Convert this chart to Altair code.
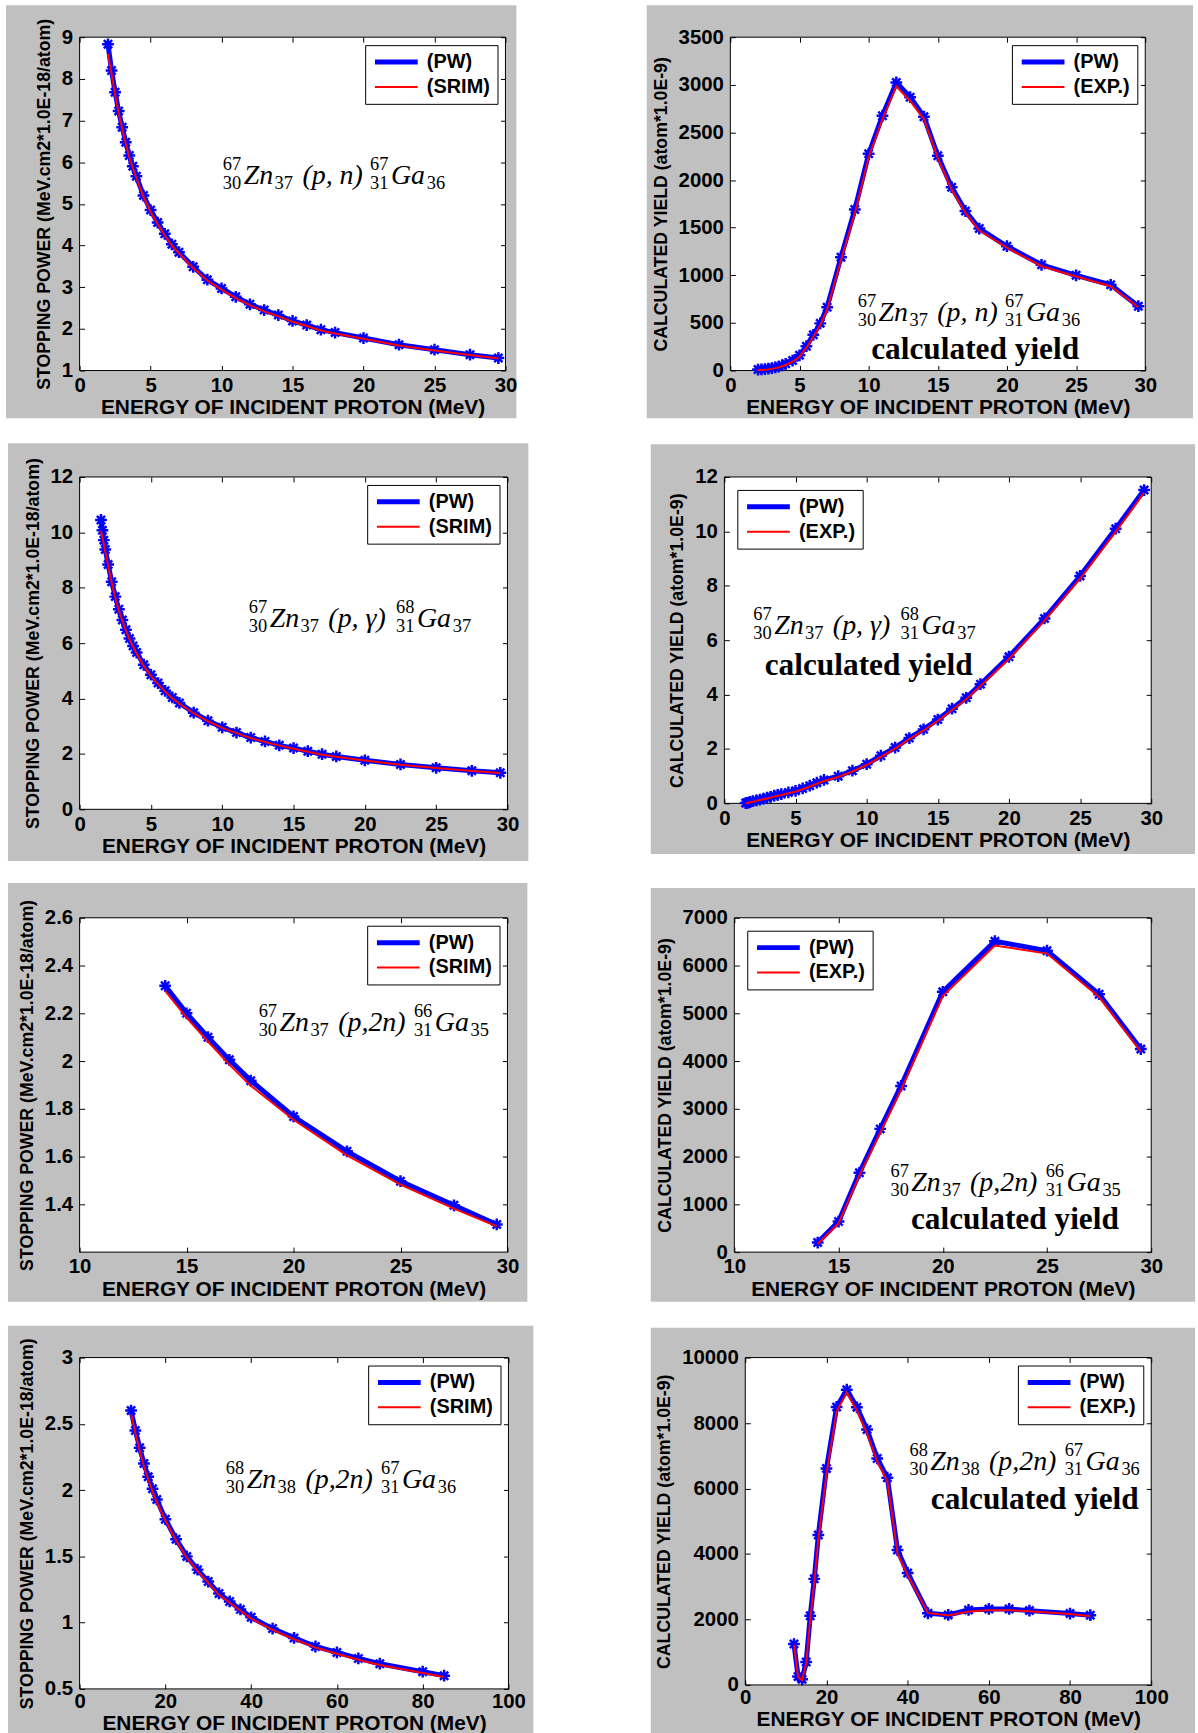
import altair as alt
import pandas as pd

SANS = "Liberation Sans"
SERIF = "Liberation Serif"
BLUE = "#0000ff"
RED = "#ff0000"
PANEL_GRAY = "#c0c0c0"
# Matlab-style '*' marker as a custom symbol path
STAR = "M-1,0L1,0M0,-1L0,1M-0.7,-0.7L0.7,0.7M-0.7,0.7L0.7,-0.7"
# long horizontal stroke used as the legend key
KEY = "M-1,0L5,0"

X_TITLE = "ENERGY OF INCIDENT PROTON (MeV)"
SP_TITLE = "STOPPING POWER (MeV.cm2*1.0E-18/atom)"
YIELD_TITLE = "CALCULATED YIELD (atom*1.0E-9)"

# ---- 67Zn(p,n)67Ga ----
e_pn = [2, 2.25, 2.5, 2.75, 3, 3.25, 3.5, 3.75, 4, 4.5, 5, 5.5, 6, 6.5, 7, 8, 9, 10,
        11, 12, 13, 14, 15, 16, 17, 18, 20, 22.5, 25, 27.5, 29.5]
sp_pn_pw = [8.83, 8.20, 7.68, 7.23, 6.84, 6.48, 6.16, 5.90, 5.66, 5.20, 4.85, 4.55, 4.28,
            4.03, 3.84, 3.49, 3.18, 2.97, 2.77, 2.59, 2.45, 2.33, 2.19, 2.09, 1.98, 1.91,
            1.78, 1.62, 1.50, 1.38, 1.30]
sp_pn_srim = [8.60, 8.12, 7.62, 7.18, 6.80, 6.44, 6.12, 5.86, 5.62, 5.17, 4.81, 4.51, 4.24,
              4.00, 3.81, 3.46, 3.16, 2.94, 2.74, 2.57, 2.42, 2.30, 2.17, 2.07, 1.96, 1.89,
              1.76, 1.60, 1.48, 1.37, 1.29]
yield_pn_pw = [10, 12, 15, 20, 26, 33, 42, 55, 70, 105, 160, 255, 375, 495, 665, 1190, 1690,
               2275, 2675, 3025, 2870, 2665, 2255, 1925, 1675, 1490, 1305, 1110, 1000, 900, 675]
yield_pn_exp = [5, 6, 8, 12, 18, 25, 33, 45, 58, 92, 145, 240, 355, 475, 640, 1160, 1650,
                2240, 2640, 2985, 2830, 2640, 2230, 1900, 1655, 1470, 1290, 1095, 988, 885, 665]

# ---- 67Zn(p,gamma)68Ga ----
e_pg = [1.5, 1.6, 1.7, 1.8, 2, 2.25, 2.5, 2.75, 3, 3.25, 3.5, 3.75, 4, 4.5, 5, 5.5, 6, 6.5,
        7, 8, 9, 10, 11, 12, 13, 14, 15, 16, 17, 18, 20, 22.5, 25, 27.5, 29.5]
sp_pg_pw = [10.45, 10.08, 9.72, 9.38, 8.84, 8.22, 7.68, 7.22, 6.84, 6.48, 6.17, 5.90, 5.66,
            5.22, 4.86, 4.56, 4.28, 4.04, 3.84, 3.49, 3.20, 2.96, 2.77, 2.59, 2.45, 2.31,
            2.21, 2.10, 1.99, 1.91, 1.77, 1.62, 1.50, 1.39, 1.32]
sp_pg_srim = [10.05, 9.80, 9.55, 9.30, 8.80, 8.18, 7.64, 7.18, 6.80, 6.45, 6.14, 5.87, 5.62,
              5.18, 4.82, 4.52, 4.25, 4.01, 3.81, 3.47, 3.18, 2.94, 2.75, 2.57, 2.43, 2.30,
              2.19, 2.08, 1.97, 1.90, 1.76, 1.61, 1.49, 1.38, 1.31]
yield_pg_pw = [0.01, 0.02, 0.03, 0.05, 0.08, 0.11, 0.14, 0.17, 0.21, 0.24, 0.28, 0.31, 0.34,
               0.40, 0.46, 0.55, 0.65, 0.76, 0.86, 1.00, 1.20, 1.44, 1.75, 2.05, 2.40, 2.72,
               3.08, 3.48, 3.88, 4.38, 5.39, 6.80, 8.36, 10.10, 11.52]
yield_pg_exp = [0.00, 0.01, 0.02, 0.03, 0.06, 0.09, 0.12, 0.15, 0.18, 0.21, 0.25, 0.28, 0.31,
                0.37, 0.43, 0.52, 0.62, 0.72, 0.82, 0.97, 1.17, 1.41, 1.71, 2.01, 2.36, 2.68,
                3.03, 3.43, 3.83, 4.32, 5.31, 6.72, 8.26, 9.98, 11.42]

# ---- 67Zn(p,2n)66Ga ----
e_p2n = [14, 15, 16, 17, 18, 20, 22.5, 25, 27.5, 29.5]
sp_p2n_pw = [2.315, 2.200, 2.100, 2.005, 1.918, 1.768, 1.622, 1.497, 1.396, 1.316]
sp_p2n_srim = [2.294, 2.182, 2.082, 1.985, 1.897, 1.754, 1.605, 1.483, 1.382, 1.308]
yield_p2n_pw = [200, 640, 1660, 2580, 3480, 5450, 6510, 6310, 5400, 4250]
yield_p2n_exp = [170, 600, 1600, 2500, 3400, 5360, 6420, 6250, 5340, 4200]

# ---- 68Zn(p,2n)67Ga ----
e_68 = [12, 13, 14, 15, 16, 17, 18, 20, 22.5, 25, 27.5, 30, 32.5, 35, 37.5, 40, 45, 50,
        55, 60, 65, 70, 80, 85]
sp_68_pw = [2.60, 2.45, 2.32, 2.20, 2.10, 2.01, 1.93, 1.78, 1.63, 1.50, 1.40, 1.31, 1.22,
            1.16, 1.10, 1.04, 0.955, 0.885, 0.820, 0.775, 0.730, 0.690, 0.630, 0.600]
sp_68_srim = [2.57, 2.43, 2.30, 2.18, 2.08, 1.99, 1.91, 1.77, 1.62, 1.49, 1.39, 1.30, 1.21,
              1.15, 1.09, 1.03, 0.945, 0.875, 0.812, 0.765, 0.720, 0.680, 0.620, 0.590]
yield_68_pw = [1250, 260, 170, 700, 2110, 3240, 4580, 6610, 8490, 9020, 8480, 7800, 6920,
               6330, 4120, 3420, 2190, 2140, 2290, 2320, 2320, 2270, 2180, 2130]
yield_68_exp = [1230, 240, 150, 650, 2000, 3150, 4450, 6450, 8350, 8930, 8380, 7680, 6820,
                6230, 4020, 3350, 2200, 2120, 2240, 2280, 2280, 2250, 2170, 2100]

# nuclide notation pieces: mass / atomic / neutron numbers around Zn and Ga
REACTIONS = {
    "pn": dict(a1="67", z1="30", n1="37", reaction="(p, n)", a2="67", z2="31", n2="36", wide=False),
    "pg": dict(a1="67", z1="30", n1="37", reaction="(p, γ)", a2="68", z2="31", n2="37", wide=False),
    "p2n67": dict(a1="67", z1="30", n1="37", reaction="(p,2n)", a2="66", z2="31", n2="35", wide=True),
    "p2n68": dict(a1="68", z1="30", n1="38", reaction="(p,2n)", a2="67", z2="31", n2="36", wide=True),
}


def axis(orient, values, title=None, title_size=21, title_pad=1, label_pad=5):
    """Matlab-like axis: ticks pointing into the plot box, bold Arial labels."""
    kw = dict(orient=orient, values=values, offset=-5, tickSize=5, tickColor="black",
              tickWidth=1, domain=False, grid=False, zindex=1)
    if title is not None:
        kw.update(format=".2~f", labelFont=SANS, labelFontSize=20.5, labelFontWeight="bold",
                  labelColor="black", labelPadding=label_pad, labelFlush=False,
                  labelOverlap=False, title=title, titleFont=SANS, titleFontSize=title_size,
                  titleFontWeight="bold", titleColor="black", titlePadding=title_pad)
    else:
        kw.update(labels=False, title=None)
    return alt.Axis(**kw)


def formula_frames(fm, anchor, xdom, ydom, w, h):
    """Place the pieces of the nuclide notation relative to its left/baseline anchor."""
    ax, ay = anchor
    kx = (xdom[1] - xdom[0]) / w
    ky = (ydom[1] - ydom[0]) / h
    pw = 68 if fm["wide"] else 60
    pre2 = 80 + pw + 8
    big = [("Zn", 21, 0), (fm["reaction"], 80, 0), ("Ga", pre2 + 21, 0)]
    small = [(fm["a1"], 0, -14), (fm["z1"], 0, 5), (fm["n1"], 52, 5),
             (fm["a2"], pre2, -14), (fm["z2"], pre2, 5), (fm["n2"], pre2 + 57, 5)]

    def conv(items):
        return pd.DataFrame([{"x": ax + dx * kx, "y": ay - dy * ky, "t": t} for t, dx, dy in items])

    return conv(big), conv(small)


def make_panel(cfg):
    w, h = cfg["size"]
    fl, fr, ft, fb = cfg["frame"]
    xdom, ydom = cfg["xdom"], cfg["ydom"]
    xs = alt.Scale(domain=xdom, nice=False, zero=False)
    ys = alt.Scale(domain=ydom, nice=False, zero=False)
    names = ["(PW)", cfg["ref_name"]]
    on_left = cfg["legend"] == "top-left"
    leg = alt.Legend(title=None, orient=cfg["legend"], offset=13 if on_left else 8, padding=7,
                     strokeColor="black", fillColor="white", cornerRadius=0,
                     symbolType=KEY, symbolSize=205, labelFont=SANS, labelFontSize=20,
                     labelFontWeight="bold", labelColor="black", labelOffset=35, rowPadding=5)
    color = alt.Color("series:N", scale=alt.Scale(domain=names, range=[BLUE, RED]), legend=leg)
    width_enc = alt.StrokeWidth("series:N", scale=alt.Scale(domain=names, range=[5, 2]), legend=leg)

    pw = pd.DataFrame({"E": cfg["E"], "v": cfg["pw"], "series": names[0]})
    ref = pd.DataFrame({"E": cfg["E"], "v": cfg["ref"], "series": names[1]})
    one = pd.DataFrame({"k": [0]})

    backdrop = alt.Chart(one).mark_rect(fill=PANEL_GRAY).encode(
        x=alt.value(-fl), x2=alt.value(w + fr), y=alt.value(-ft), y2=alt.value(h + fb))
    plot_bg = alt.Chart(one).mark_rect(fill="white", stroke="black", strokeWidth=1).encode(
        x=alt.value(0), x2=alt.value(w), y=alt.value(0), y2=alt.value(h))

    xlab_pad, xtitle_pad = cfg.get("xpad", (5, 1))
    pw_line = alt.Chart(pw).mark_line().encode(
        x=alt.X("E:Q", scale=xs, axis=axis("bottom", cfg["xvals"], X_TITLE,
                                           title_pad=xtitle_pad, label_pad=xlab_pad)),
        y=alt.Y("v:Q", scale=ys, axis=axis("left", cfg["yvals"], cfg["ytitle"],
                                           title_size=17.8, title_pad=8, label_pad=7)),
        color=color, strokeWidth=width_enc)
    pw_pts = alt.Chart(pw).mark_point(shape=STAR, size=140, filled=False, color=BLUE,
                                      strokeWidth=2.5, opacity=1).encode(
        x=alt.X("E:Q", scale=xs, axis=None), y=alt.Y("v:Q", scale=ys, axis=None))
    ref_line = alt.Chart(ref).mark_line().encode(
        x=alt.X("E:Q", scale=xs, axis=axis("top", cfg["xvals"])),
        y=alt.Y("v:Q", scale=ys, axis=axis("right", cfg["yvals"])),
        color=color, strokeWidth=width_enc)

    big_df, small_df = formula_frames(REACTIONS[cfg["formula"]], cfg["anchor"], xdom, ydom, w, h)
    f_big = alt.Chart(big_df).mark_text(font=SERIF, fontSize=28, fontStyle="italic", align="left",
                                        baseline="alphabetic", color="black").encode(
        x=alt.X("x:Q", scale=xs, axis=None), y=alt.Y("y:Q", scale=ys, axis=None), text="t:N")
    f_small = alt.Chart(small_df).mark_text(font=SERIF, fontSize=18.5, align="left",
                                            baseline="alphabetic", color="black").encode(
        x=alt.X("x:Q", scale=xs, axis=None), y=alt.Y("y:Q", scale=ys, axis=None), text="t:N")
    layers = [backdrop, plot_bg, pw_line, pw_pts, ref_line, f_big, f_small]

    if cfg.get("tag"):
        tx, ty = cfg["tag"]
        tag_df = pd.DataFrame({"x": [tx], "y": [ty], "t": ["calculated yield"]})
        layers.append(alt.Chart(tag_df).mark_text(font=SERIF, fontSize=31.5, fontWeight="bold",
                                                  align="center", baseline="alphabetic",
                                                  color="black").encode(
            x=alt.X("x:Q", scale=xs, axis=None), y=alt.Y("y:Q", scale=ys, axis=None), text="t:N"))

    return alt.layer(*layers).resolve_axis(x="independent", y="independent").properties(
        width=w, height=h)


ticks_30 = [0, 5, 10, 15, 20, 25, 30]
ticks_10_30 = [10, 15, 20, 25, 30]
ticks_100 = [0, 20, 40, 60, 80, 100]

panels = [
    dict(E=e_pn, pw=sp_pn_pw, ref=sp_pn_srim, ref_name="(SRIM)", xdom=[0, 30], xvals=ticks_30,
         ydom=[1, 9], yvals=[1, 2, 3, 4, 5, 6, 7, 8, 9], ytitle=SP_TITLE, size=(428, 335),
         frame=(74, 11, 32, 48), legend="top-right", formula="pn", anchor=(10.09, 5.47)),
    dict(E=e_pn, pw=yield_pn_pw, ref=yield_pn_exp, ref_name="(EXP.)", xdom=[0, 30], xvals=ticks_30,
         ydom=[0, 3500], yvals=[0, 500, 1000, 1500, 2000, 2500, 3000, 3500], ytitle=YIELD_TITLE,
         size=(417, 335), frame=(84, 48, 32, 48), legend="top-right", formula="pn",
         anchor=(9.21, 522), tag=(17.7, 125)),
    dict(E=e_pg, pw=sp_pg_pw, ref=sp_pg_srim, ref_name="(SRIM)", xdom=[0, 30], xvals=ticks_30,
         ydom=[0, 12], yvals=[0, 2, 4, 6, 8, 10, 12], ytitle=SP_TITLE, size=(430, 334),
         frame=(72, 21, 34, 52), legend="top-right", formula="pg", anchor=(11.86, 6.57)),
    dict(E=e_pg, pw=yield_pg_pw, ref=yield_pg_exp, ref_name="(EXP.)", xdom=[0, 30], xvals=ticks_30,
         ydom=[0, 12], yvals=[0, 2, 4, 6, 8, 10, 12], ytitle=YIELD_TITLE, size=(429, 328),
         frame=(74, 44, 33, 51), legend="top-left", formula="pg", anchor=(2.03, 6.22),
         tag=(10.14, 4.72)),
    dict(E=e_p2n, pw=sp_p2n_pw, ref=sp_p2n_srim, ref_name="(SRIM)", xdom=[10, 30],
         xvals=ticks_10_30, ydom=[1.2, 2.6], yvals=[1.4, 1.6, 1.8, 2.0, 2.2, 2.4, 2.6],
         ytitle=SP_TITLE, size=(430, 336), frame=(72, 20, 35, 50), legend="top-right",
         formula="p2n67", anchor=(18.37, 2.125)),
    dict(E=e_p2n, pw=yield_p2n_pw, ref=yield_p2n_exp, ref_name="(EXP.)", xdom=[10, 30],
         xvals=ticks_10_30, ydom=[0, 7000], yvals=[0, 1000, 2000, 3000, 4000, 5000, 6000, 7000],
         ytitle=YIELD_TITLE, size=(419, 336), frame=(84, 44, 30, 50), legend="top-left",
         formula="p2n67", anchor=(17.49, 1271), tag=(23.46, 479)),
    dict(E=e_68, pw=sp_68_pw, ref=sp_68_srim, ref_name="(SRIM)", xdom=[0, 100], xvals=ticks_100,
         ydom=[0.5, 3], yvals=[0.5, 1, 1.5, 2, 2.5, 3], ytitle=SP_TITLE, size=(431, 333),
         frame=(72, 25, 32, 50), legend="top-right", formula="p2n68", anchor=(34.1, 2.013),
         xpad=(3, 0)),
    dict(E=e_68, pw=yield_68_pw, ref=yield_68_exp, ref_name="(EXP.)", xdom=[0, 100],
         xvals=ticks_100, ydom=[0, 10000], yvals=[0, 2000, 4000, 6000, 8000, 10000],
         ytitle=YIELD_TITLE, size=(408, 329), frame=(95, 44, 30, 56), legend="top-right",
         formula="p2n68", anchor=(40.44, 6565), tag=(71.3, 5380), xpad=(3, 0)),
]

charts = [make_panel(p) for p in panels]


def own_keys(c):
    # every panel keeps its own series colours, widths and legend
    return c.resolve_scale(color="independent", strokeWidth="independent").resolve_legend(
        color="independent", strokeWidth="independent")


row1 = own_keys(alt.hconcat(charts[0], charts[1], spacing=129))
row2 = own_keys(alt.hconcat(charts[2], charts[3], spacing=121))
row3 = own_keys(alt.hconcat(charts[4], charts[5], spacing=122))
row4 = own_keys(alt.hconcat(charts[6], charts[7], spacing=116))

lower = own_keys(alt.vconcat(row3, row4, spacing=22))
middle = own_keys(alt.vconcat(row2, lower, spacing=20))
chart = own_keys(alt.vconcat(row1, middle, spacing=23)).properties(
    padding={"left": 5, "top": 0, "right": 2, "bottom": 0},
    background="white",
).configure_view(stroke="transparent")

chart.save("out.html", embed_options={"renderer": "svg", "actions": False})
